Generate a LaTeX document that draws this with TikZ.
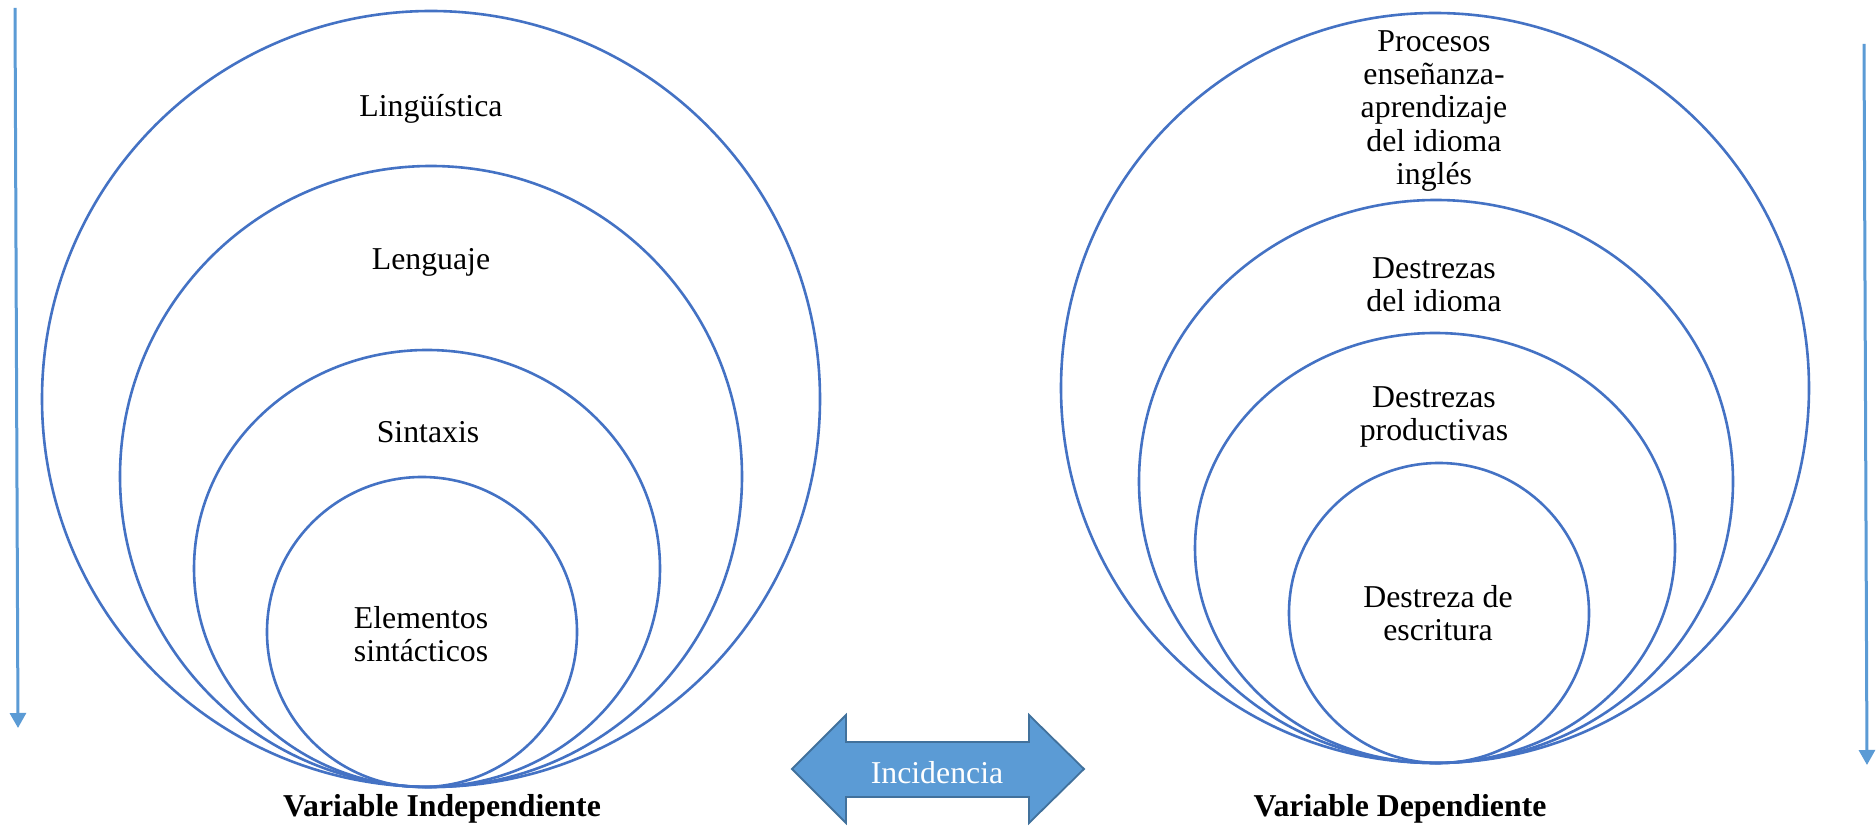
\documentclass[tikz,border=0pt]{standalone}
\usepackage{fontspec}
\setmainfont{Liberation Serif}
\usetikzlibrary{shapes.geometric,arrows.meta}
\definecolor{ringblue}{HTML}{4472C4}
\definecolor{arrowblue}{HTML}{5B9BD5}
\definecolor{arrowedge}{HTML}{41719C}
\begin{document}
\begin{tikzpicture}[x=0.5pt,y=-0.5pt,
  ring/.style={ellipse, draw=ringblue, line width=1.3pt, inner sep=0pt},
  lbl/.style={font=\fontsize{15.9}{16.6}\selectfont, align=center, inner sep=0pt},
  vlabel/.style={font=\fontsize{15.9}{16.6}\selectfont\bfseries, inner sep=0pt},
  flow/.style={draw=arrowblue, line width=1.5pt, -{Triangle[length=7.5pt,width=8pt]}},
  bigarrow/.style={fill=arrowblue, draw=arrowedge, line width=0.9pt}]
\useasboundingbox (0,0) rectangle (1876,828);
\fill[white] (0,0) rectangle (1876,828);
% left rings
\node[ring, minimum width=389pt, minimum height=388pt] (L1) at (431,399) {};
\node[ring, minimum width=311pt, minimum height=310.5pt] (L2) at (431,476.5) {};
\node[ring, minimum width=233pt, minimum height=218.5pt] (L3) at (427,568.5) {};
\node[ring, minimum width=155pt, minimum height=155pt] (L4) at (422,632) {};
% right rings
\node[ring, minimum width=374pt, minimum height=375pt] (R1) at (1435,388) {};
\node[ring, minimum width=297pt, minimum height=281.5pt] (R2) at (1436,481.5) {};
\node[ring, minimum width=240pt, minimum height=215pt] (R3) at (1435,548) {};
\node[ring, minimum width=150pt, minimum height=150pt] (R4) at (1439,613) {};
% left labels
\node[lbl] (tL1) at (431,109) {Lingüística};
\node[lbl] (tL2) at (431,262) {Lenguaje};
\node[lbl] (tL3) at (428,432) {Sintaxis};
\node[lbl] (tL4) at (421,634) {Elementos\\sintácticos};
% right labels
\node[lbl] (tR1) at (1434,111) {Procesos\\enseñanza-\\aprendizaje\\del idioma\\inglés};
\node[lbl] (tR2) at (1434,285) {Destrezas\\del idioma};
\node[lbl] (tR3) at (1434,417) {Destrezas\\productivas};
\node[lbl] (tR4) at (1438,613) {Destreza de\\escritura};
% variable labels
\node[vlabel] (vi) at (442,809) {Variable Independiente};
\node[vlabel] (vd) at (1400,809) {Variable Dependiente};
% double arrow
\draw[bigarrow] (792,769) -- (846,715) -- (846,742) -- (1029,742) -- (1029,715)
  -- (1084,769) -- (1029,823) -- (1029,797) -- (846,797) -- (846,823) -- cycle;
\node[lbl, text=white] (inc) at (937,773) {Incidencia};
% side arrows
\coordinate (ltop) at (15,8);
\coordinate (lbot) at (18,728);
\coordinate (rtop) at (1864,44);
\coordinate (rbot) at (1867,765);
\draw[flow] (ltop) -- (lbot);
\draw[flow] (rtop) -- (rbot);
\end{tikzpicture}
\end{document}
